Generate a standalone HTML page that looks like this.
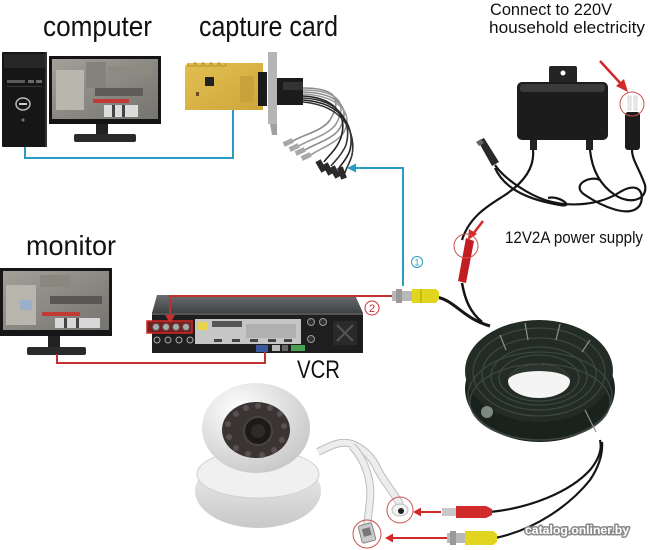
<!DOCTYPE html>
<html><head><meta charset="utf-8">
<style>
html,body{margin:0;padding:0;background:#fff;width:650px;height:550px;overflow:hidden;}
svg{display:block;}
text{font-family:"Liberation Sans",sans-serif;}
</style></head><body>
<svg width="650" height="550" viewBox="0 0 650 550" xmlns="http://www.w3.org/2000/svg">
<defs>
 <linearGradient id="scr" x1="0" y1="0" x2="1" y2="1">
  <stop offset="0" stop-color="#a3a09a"/><stop offset="1" stop-color="#75736e"/>
 </linearGradient>
 <radialGradient id="dome" cx="0.35" cy="0.3" r="0.8">
  <stop offset="0" stop-color="#ffffff"/><stop offset="1" stop-color="#c4c4c4"/>
 </radialGradient>
 <linearGradient id="base" x1="0" y1="0" x2="0" y2="1">
  <stop offset="0" stop-color="#f2f2f2"/><stop offset="1" stop-color="#c8c8c8"/>
 </linearGradient>
 <linearGradient id="vtop" x1="0" y1="0" x2="0" y2="1">
  <stop offset="0" stop-color="#6a6e70"/><stop offset="1" stop-color="#3e4244"/>
 </linearGradient>
 <linearGradient id="pcb" x1="0" y1="0" x2="1" y2="1">
  <stop offset="0" stop-color="#e2bf52"/><stop offset="1" stop-color="#cfa63a"/>
 </linearGradient>
</defs>

<!-- ===== labels ===== -->
<text x="43" y="36" font-size="29" textLength="109" lengthAdjust="spacingAndGlyphs" fill="#111">computer</text>
<text x="199" y="36" font-size="29" textLength="139" lengthAdjust="spacingAndGlyphs" fill="#111">capture card</text>
<text x="490" y="15" font-size="17" textLength="122" lengthAdjust="spacingAndGlyphs" fill="#111">Connect to 220V</text>
<text x="489" y="33" font-size="17" textLength="156" lengthAdjust="spacingAndGlyphs" fill="#111">household electricity</text>
<text x="505" y="243" font-size="17" textLength="138" lengthAdjust="spacingAndGlyphs" fill="#111">12V2A power supply</text>
<text x="26" y="255" font-size="28" textLength="90" lengthAdjust="spacingAndGlyphs" fill="#111">monitor</text>
<text x="297" y="378" font-size="25" textLength="43" lengthAdjust="spacingAndGlyphs" fill="#111">VCR</text>

<!-- ===== computer tower ===== -->
<rect x="2" y="52" width="45" height="95" rx="1" fill="#161616"/>
<rect x="4" y="54" width="41" height="14" fill="#262626"/>
<rect x="7" y="80" width="18" height="3" fill="#5a5a5a"/>
<rect x="28" y="80" width="6" height="3" fill="#6a6a6a"/>
<rect x="36" y="80" width="6" height="3" fill="#6a6a6a"/>
<rect x="7" y="86" width="35" height="1" fill="#3a3a3a"/>
<ellipse cx="23" cy="104" rx="7" ry="6" fill="none" stroke="#bbb" stroke-width="1.5"/>
<rect x="19" y="103" width="8" height="2" fill="#ccc"/>
<circle cx="23" cy="120" r="1.5" fill="#777"/>
<rect x="45" y="52" width="2" height="95" fill="#333"/>

<!-- ===== computer monitor ===== -->
<rect x="49" y="56" width="112" height="68" fill="#141414"/>
<rect x="52" y="59" width="106" height="60" fill="url(#scr)"/>
<rect x="56" y="70" width="28" height="40" fill="#b9b6ae"/>
<rect x="86" y="62" width="20" height="26" fill="#85827b"/>
<rect x="108" y="66" width="44" height="10" fill="#8d8a82"/>
<rect x="95" y="88" width="48" height="8" fill="#5e5c58"/>
<rect x="93" y="99" width="36" height="4" fill="#c23a36"/>
<rect x="104" y="105" width="34" height="12" fill="#dcdcdc"/>
<rect x="112" y="105" width="3" height="12" fill="#444"/>
<rect x="122" y="105" width="3" height="12" fill="#444"/>
<rect x="96" y="124" width="12" height="11" fill="#222"/>
<rect x="74" y="134" width="62" height="8" rx="2" fill="#2a2a2a"/>

<!-- blue line computer -> card -->
<path d="M25 147 V158 H233 V110" fill="none" stroke="#2a9cc4" stroke-width="2"/>

<!-- ===== capture card ===== -->
<path d="M185 66 L188 63 H263 V110 H185 Z" fill="url(#pcb)"/>
<path d="M188 63 v3 h6 v-3 h2 v3 h6 v-3 h2 v3 h6 v-3 h2 v3 h6 v-3 h2 v3 h6 v-3" fill="none" stroke="#b8922a" stroke-width="1"/>
<rect x="205" y="77" width="9" height="9" fill="#222"/>
<rect x="196" y="92" width="3" height="4" fill="#6a4a20"/>
<rect x="240" y="76" width="14" height="26" fill="#c9a23c"/>
<rect x="258" y="72" width="9" height="34" fill="#1a1a1a"/>
<rect x="268" y="52" width="9" height="72" fill="#b5b5b5"/>
<path d="M270 124 H277 V135 H272 Z" fill="#a0a0a0"/>
<rect x="277" y="78" width="26" height="27" fill="#1b1b1b"/>
<rect x="283" y="82" width="20" height="8" fill="#333"/>
<g fill="none" stroke-width="1.6">
 <path d="M303 88 C330 88 345 95 330 120 C322 132 298 136 290 143" stroke="#8c8c8c"/>
 <path d="M303 90 C333 90 350 100 336 124 C328 136 304 141 296 148" stroke="#999"/>
 <path d="M303 92 C336 93 352 106 340 128 C333 140 310 145 302 152" stroke="#8c8c8c"/>
 <path d="M303 94 C338 96 354 112 344 132 C338 143 316 150 308 157" stroke="#999"/>
 <path d="M303 96 C340 98 348 120 340 140 C336 150 328 156 324 162" stroke="#222"/>
 <path d="M303 98 C343 100 352 125 346 145 C342 155 334 162 331 166" stroke="#333"/>
 <path d="M303 100 C345 103 355 130 350 150 C347 160 340 165 338 170" stroke="#222"/>
 <path d="M303 102 C346 106 356 135 352 155 C350 163 346 168 345 173" stroke="#333"/>
</g>
<g fill="#a8a8a8">
 <rect x="283" y="140" width="10" height="5" transform="rotate(-25 288 142)"/>
 <rect x="289" y="145" width="10" height="5" transform="rotate(-25 294 147)"/>
 <rect x="295" y="149" width="10" height="5" transform="rotate(-25 300 151)"/>
 <rect x="301" y="154" width="10" height="5" transform="rotate(-25 306 156)"/>
</g>
<g fill="#2a2a2a">
 <rect x="318" y="160" width="6" height="12" transform="rotate(-30 321 166)"/>
 <rect x="325" y="163" width="6" height="12" transform="rotate(-30 328 169)"/>
 <rect x="332" y="166" width="6" height="12" transform="rotate(-30 335 172)"/>
 <rect x="339" y="167" width="6" height="12" transform="rotate(-20 342 173)"/>
</g>

<!-- blue line ① -->
<path d="M403 286 V168 H354" fill="none" stroke="#2a9cc4" stroke-width="2"/>
<polygon points="347,168 356,163.5 356,172.5" fill="#2a9cc4"/>
<circle cx="417" cy="262" r="5.5" fill="#fff" stroke="#2a9cc4" stroke-width="1"/>
<text x="417" y="265.5" font-size="9" text-anchor="middle" fill="#2a9cc4">1</text>

<!-- ===== power supply ===== -->
<rect x="549" y="66" width="28" height="19" rx="2" fill="#242424"/>
<circle cx="563" cy="73" r="2.5" fill="#fff"/>
<rect x="517" y="82" width="91" height="58" rx="5" fill="#1c1c1c"/>
<rect x="520" y="84" width="85" height="8" rx="3" fill="#3a3a3a"/>
<rect x="530" y="140" width="7" height="10" fill="#222"/>
<rect x="586" y="140" width="7" height="10" fill="#222"/>
<g fill="none" stroke="#151515" stroke-width="2.2">
 <path d="M533 150 C535 170 520 185 505 195 C490 205 470 215 462 240"/>
 <path d="M495 165 C505 180 530 195 545 200 C570 208 600 205 620 192 C640 180 645 195 640 205 C630 220 600 205 585 195 C570 185 590 175 600 180"/>
 <path d="M590 150 C592 170 600 185 615 195 C630 205 648 200 645 185 C640 170 632 160 632 150"/>
 <path d="M495 168 C505 190 530 200 560 205 C575 208 560 195 548 198"/>
</g>
<!-- DC jack -->
<path d="M478 141 L484 138 L499 162 L492 166 Z" fill="#2a2a2a"/>
<path d="M476 142 L481 139 L484 143 L479 146 Z" fill="#666"/>
<!-- wall plug -->
<rect x="625" y="112" width="15" height="38" rx="3" fill="#1c1c1c"/>
<rect x="628" y="96" width="3" height="14" fill="#eee" stroke="#bbb" stroke-width="0.5"/>
<rect x="634" y="96" width="3" height="14" fill="#eee" stroke="#bbb" stroke-width="0.5"/>
<circle cx="632" cy="104" r="12" fill="none" stroke="#c9534f" stroke-width="1"/>
<line x1="600" y1="61" x2="622" y2="85" stroke="#d22a2a" stroke-width="2.5"/>
<polygon points="628,92 616,86 624,79" fill="#d22a2a"/>

<!-- red DC plug at cable end -->
<line x1="483" y1="221" x2="473" y2="234" stroke="#d22a2a" stroke-width="2.5"/>
<polygon points="468,240 469,229 477,234" fill="#d22a2a"/>
<path d="M466 238 L474 241 L466 283 L458 281 Z" fill="#c21e22"/>
<circle cx="466" cy="246" r="12" fill="none" stroke="#c9534f" stroke-width="1"/>

<!-- ===== coil ===== -->
<path d="M462 283 C465 300 470 312 482 322" fill="none" stroke="#151515" stroke-width="2.5"/>
<path d="M436 297 C455 300 462 318 490 326" fill="none" stroke="#151515" stroke-width="3"/>
<ellipse cx="540" cy="389" rx="75" ry="53" fill="#19221c"/>
<ellipse cx="539" cy="371" rx="74" ry="51" fill="#222c25"/>
<g fill="none" stroke="#3b4740" stroke-width="1.3">
 <ellipse cx="539" cy="372" rx="66" ry="44"/>
 <ellipse cx="539" cy="374" rx="57" ry="36"/>
 <ellipse cx="539" cy="376" rx="48" ry="29"/>
 <ellipse cx="539" cy="378" rx="40" ry="23"/>
 <ellipse cx="540" cy="396" rx="72" ry="44"/>
 <ellipse cx="540" cy="402" rx="70" ry="38"/>
</g>
<ellipse cx="539" cy="381" rx="31" ry="17" fill="#f4f4f4"/>
<path d="M508 381 A31 17 0 0 1 570 381 A31 10 0 0 0 508 381 Z" fill="#2a342d"/>
<g stroke="#8a928c" stroke-width="1.2">
 <line x1="500" y1="335" x2="506" y2="350"/>
 <line x1="525" y1="323" x2="528" y2="340"/>
 <line x1="560" y1="324" x2="556" y2="340"/>
 <line x1="590" y1="340" x2="582" y2="352"/>
 <line x1="585" y1="410" x2="596" y2="432"/>
</g>
<circle cx="487" cy="412" r="6" fill="#7d8a80"/>

<!-- ===== VCR ===== -->
<path d="M157 295 H355 L363 313 H152 Z" fill="url(#vtop)"/>
<rect x="152" y="313" width="211" height="40" fill="#1e1e1e"/>
<rect x="152" y="313" width="211" height="2" fill="#555"/>
<rect x="195" y="319" width="106" height="25" fill="#c6c6c6"/>
<rect x="198" y="322" width="10" height="8" fill="#e8d44a"/>
<rect x="212" y="321" width="30" height="6" fill="#555"/>
<rect x="246" y="324" width="50" height="14" fill="#b0b0b0"/>
<g fill="#444"><rect x="214" y="339" width="8" height="3"/><rect x="232" y="339" width="8" height="3"/><rect x="250" y="339" width="8" height="3"/><rect x="268" y="339" width="8" height="3"/><rect x="284" y="339" width="8" height="3"/></g>
<rect x="147" y="321" width="45" height="12" fill="#7a1d1d" stroke="#d02a2a" stroke-width="1.5"/>
<g fill="#aaa" stroke="#555" stroke-width="1">
 <circle cx="156" cy="327" r="3.5"/><circle cx="166" cy="327" r="3.5"/><circle cx="176" cy="327" r="3.5"/><circle cx="186" cy="327" r="3.5"/>
</g>
<g fill="#222" stroke="#aaa" stroke-width="1">
 <circle cx="157" cy="340" r="3"/><circle cx="168" cy="340" r="3"/><circle cx="179" cy="340" r="3"/><circle cx="190" cy="340" r="3"/>
</g>
<g fill="#333" stroke="#999" stroke-width="1">
 <circle cx="311" cy="322" r="3.5"/><circle cx="323" cy="322" r="3.5"/><circle cx="311" cy="339" r="3.5"/>
</g>
<rect x="333" y="321" width="24" height="24" fill="#2a2a2a"/>
<path d="M337 325 L353 341 M353 325 L337 341" stroke="#555" stroke-width="2"/>
<rect x="256" y="345" width="12" height="7" fill="#3a5aa0"/>
<rect x="272" y="345" width="8" height="6" fill="#bbb"/>
<rect x="282" y="345" width="6" height="6" fill="#666"/>
<rect x="291" y="345" width="14" height="6" fill="#4aa050"/>

<!-- red line ② -->
<path d="M392 296 H170 V317" fill="none" stroke="#c4302f" stroke-width="2"/>
<polygon points="170,323 165,315 175,315" fill="#c4302f"/>
<circle cx="372" cy="308" r="7" fill="#fff" stroke="#c4302f" stroke-width="1"/>
<text x="372" y="312" font-size="11" text-anchor="middle" fill="#c4302f">2</text>

<!-- top BNC + yellow -->
<rect x="392" y="291" width="20" height="10" fill="#b8b8b8"/>
<rect x="396" y="289" width="6" height="14" fill="#9a9a9a"/>
<path d="M412 289 H436 L439 292 V299 L436 303 H412 Z" fill="#e2d51f"/>
<rect x="420" y="289" width="2" height="14" fill="#c9bc10"/>

<!-- ===== left monitor ===== -->
<rect x="0" y="268" width="112" height="68" fill="#161616"/>
<rect x="3" y="271" width="106" height="59" fill="url(#scr)"/>
<rect x="6" y="285" width="30" height="40" fill="#b8b5ad"/>
<rect x="20" y="300" width="12" height="10" fill="#9bb0c8"/>
<rect x="40" y="275" width="30" height="12" fill="#8a877f"/>
<rect x="50" y="296" width="52" height="8" fill="#5a5854"/>
<rect x="42" y="312" width="38" height="4" fill="#c23a36"/>
<rect x="55" y="318" width="45" height="10" fill="#d8d8d8"/>
<rect x="64" y="318" width="3" height="10" fill="#444"/>
<rect x="76" y="318" width="3" height="10" fill="#444"/>
<rect x="48" y="336" width="12" height="12" fill="#222"/>
<rect x="27" y="347" width="59" height="8" rx="2" fill="#2a2a2a"/>
<path d="M57 354 V363 H265 V352" fill="none" stroke="#c4302f" stroke-width="2"/>

<!-- ===== camera ===== -->
<path d="M318 452 C330 446 340 440 352 444 C362 448 372 456 378 470 C386 485 396 495 400 505" fill="none" stroke="#bdbdbd" stroke-width="8"/>
<path d="M318 452 C330 446 340 440 352 444 C362 448 372 456 378 470 C386 485 396 495 400 505" fill="none" stroke="#ededed" stroke-width="6"/>
<path d="M352 446 C365 460 372 480 370 500 C369 510 368 518 367 525" fill="none" stroke="#bdbdbd" stroke-width="8"/>
<path d="M352 446 C365 460 372 480 370 500 C369 510 368 518 367 525" fill="none" stroke="#ededed" stroke-width="6"/>
<ellipse cx="258" cy="491" rx="63" ry="37" fill="url(#base)"/>
<ellipse cx="258" cy="474" rx="61" ry="24" fill="#f0f0f0" stroke="#d0d0d0"/>
<ellipse cx="256" cy="428" rx="54" ry="45" fill="url(#dome)"/>
<ellipse cx="256" cy="430" rx="34" ry="28" fill="#3a3434"/>
<g fill="#5a5050">
 <circle cx="236" cy="414" r="3"/><circle cx="246" cy="408" r="3"/><circle cx="258" cy="406" r="3"/><circle cx="270" cy="408" r="3"/><circle cx="280" cy="414" r="3"/>
 <circle cx="284" cy="426" r="3"/><circle cx="282" cy="440" r="3"/><circle cx="274" cy="450" r="3"/><circle cx="262" cy="455" r="3"/><circle cx="248" cy="454" r="3"/>
 <circle cx="236" cy="448" r="3"/><circle cx="229" cy="437" r="3"/><circle cx="228" cy="424" r="3"/>
</g>
<circle cx="258" cy="431" r="14" fill="#1d1a1a" stroke="#4a4444" stroke-width="2"/>
<circle cx="258" cy="431" r="7" fill="#2e2a2a"/>
<!-- DC jack end -->
<ellipse cx="400" cy="510" rx="8" ry="6" fill="#f2f2f2" stroke="#bbb"/>
<circle cx="401" cy="511" r="3" fill="#222"/>
<circle cx="400" cy="510" r="13" fill="none" stroke="#c9534f" stroke-width="1"/>
<!-- BNC end -->
<rect x="360" y="524" width="14" height="18" rx="2" fill="#c9c9c9" stroke="#888" transform="rotate(-15 367 533)"/>
<rect x="363" y="528" width="8" height="8" fill="#777" transform="rotate(-15 367 533)"/>
<circle cx="367" cy="534" r="14" fill="none" stroke="#c9534f" stroke-width="1"/>

<!-- bottom arrows -->
<line x1="441" y1="512" x2="420" y2="512" stroke="#d22a2a" stroke-width="2"/>
<polygon points="413,512 421,507.5 421,516.5" fill="#d22a2a"/>
<line x1="447" y1="538" x2="392" y2="538" stroke="#d22a2a" stroke-width="2"/>
<polygon points="385,538 393,533.5 393,542.5" fill="#d22a2a"/>

<!-- bottom cables from coil -->
<path d="M490 512 C530 508 570 492 590 470 C600 458 602 448 600 440" fill="none" stroke="#151515" stroke-width="2.2"/>
<path d="M495 538 C535 530 570 505 590 480 C598 468 603 455 602 442" fill="none" stroke="#151515" stroke-width="2.2"/>

<!-- red plug -->
<rect x="442" y="508" width="14" height="8" fill="#c8c8c8"/>
<path d="M456 506 H486 L492 509 V515 L486 518 H456 Z" fill="#d32a2a"/>
<!-- yellow BNC -->
<rect x="447" y="533" width="18" height="10" fill="#b8b8b8"/>
<rect x="450" y="531" width="6" height="14" fill="#999"/>
<path d="M465 531 H493 L497 534 V542 L493 545 H465 Z" fill="#e2d51f"/>

<!-- watermark -->
<text x="525" y="534" font-size="12" font-weight="bold" textLength="104" lengthAdjust="spacingAndGlyphs" fill="#8a8a8a" stroke="#8a8a8a" stroke-width="3" stroke-linejoin="round">catalog.onliner.by</text>
<text x="525" y="534" font-size="12" font-weight="bold" textLength="104" lengthAdjust="spacingAndGlyphs" fill="#ffffff">catalog.onliner.by</text>
</svg>
</body></html>
